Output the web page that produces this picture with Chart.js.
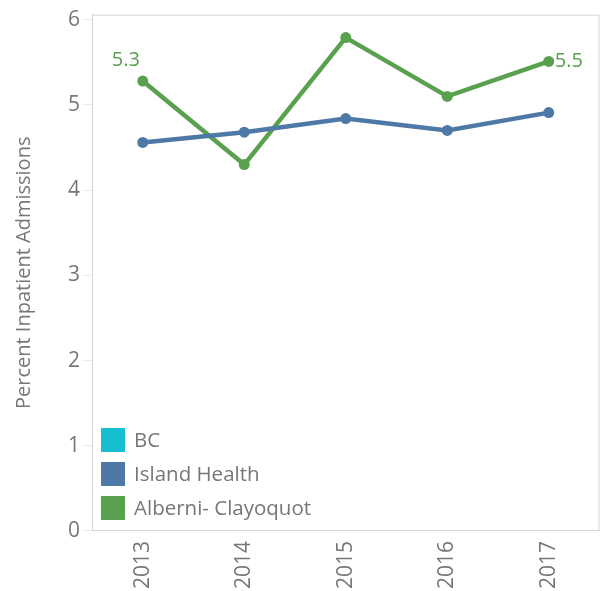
<!DOCTYPE html>
<html>
<head>
<meta charset="utf-8">
<script src="https://cdn.jsdelivr.net/npm/chart.js@4"></script>
<style>
  html, body { margin: 0; padding: 0; background: #fff; }
  #wrap { width: 605px; height: 591px; }
</style>
</head>
<body>
<div id="wrap"><canvas id="lineChart" width="605" height="591"></canvas></div>
<script>
// data
const years = ['2013', '2014', '2015', '2016', '2017'];
const bcValues = [];
const islandHealth = [4.56, 4.68, 4.84, 4.70, 4.91];
const alberniClayoquot = [5.28, 4.30, 5.79, 5.10, 5.51];
const yTicks = [0, 1, 2, 3, 4, 5, 6];

const grey = '#777';
const fontFam = '"Open Sans", "Noto Sans", sans-serif';

// legend drawn inside the plot, bottom left
const insideLegend = {
    id: 'insideLegend',
    afterDraw(chart) {
        const ctx = chart.ctx;
        const area = chart.chartArea;
        ctx.save();
        // frame on top and right
        ctx.strokeStyle = '#d4d4d4';
        ctx.lineWidth = 1;
        ctx.beginPath();
        ctx.moveTo(area.left, area.top + 0.5);
        ctx.lineTo(area.right - 0.5, area.top + 0.5);
        ctx.lineTo(area.right - 0.5, area.bottom);
        ctx.stroke();

        ctx.font = '20.5px ' + fontFam;
        ctx.textBaseline = 'middle';
        const items = chart.data.datasets;
        const rowH = 34;
        let y = area.bottom - 103;
        items.forEach(ds => {
            ctx.fillStyle = ds.borderColor;
            ctx.fillRect(area.left + 9, y, 24, 24);
            ctx.fillStyle = grey;
            ctx.fillText(ds.label, area.left + 42, y + 13);
            y += rowH;
        });

        // value labels on first / last point of green line
        const meta = chart.getDatasetMeta(2);
        const green = items[2].borderColor;
        ctx.fillStyle = green;
        ctx.font = '20px ' + fontFam;
        const first = meta.data[0];
        ctx.textAlign = 'center';
        ctx.textBaseline = 'bottom';
        ctx.fillText(alberniClayoquot[0].toFixed(1), first.x - 17, first.y - 11);
        const last = meta.data[meta.data.length - 1];
        ctx.textAlign = 'left';
        ctx.textBaseline = 'middle';
        ctx.fillText(alberniClayoquot[alberniClayoquot.length - 1].toFixed(1), last.x + 6, last.y);
        ctx.restore();
    }
};

new Chart(document.getElementById('lineChart').getContext('2d'), {
    type: 'line',
    data: {
        labels: years,
        datasets: [
            { label: 'BC', data: bcValues, borderColor: '#17becf', backgroundColor: '#17becf' },
            { label: 'Island Health', data: islandHealth, borderColor: '#4e79a7', backgroundColor: '#4e79a7' },
            { label: 'Alberni- Clayoquot', data: alberniClayoquot, borderColor: '#59a14f', backgroundColor: '#59a14f' }
        ]
    },
    options: {
        responsive: false,
        animation: false,
        layout: { padding: { top: 7, right: 3, left: 12, bottom: 0 } },
        elements: {
            line: { borderWidth: 4.5, tension: 0 },
            point: { radius: 5.5, hoverRadius: 5.5, borderWidth: 0 }
        },
        plugins: {
            legend: { display: false },
            tooltip: { enabled: false }
        },
        scales: {
            x: {
                offset: true,
                grid: { display: false },
                border: { color: '#d4d4d4' },
                ticks: {
                    color: grey,
                    font: { family: fontFam, size: 21 },
                    maxRotation: 90, minRotation: 90,
                    padding: 2
                }
            },
            y: {
                min: 0,
                max: 6.06,
                afterBuildTicks: axis => { axis.ticks = yTicks.map(v => ({ value: v })); },
                grid: { drawOnChartArea: false, drawTicks: true, tickLength: 10, color: '#ebebeb' },
                border: { color: '#d4d4d4' },
                ticks: {
                    color: grey,
                    font: { family: fontFam, size: 21 },
                    padding: 2
                },
                title: {
                    display: true,
                    text: 'Percent Inpatient Admissions',
                    color: grey,
                    font: { family: fontFam, size: 20 },
                    padding: { top: 0, bottom: 30 }
                }
            }
        }
    },
    plugins: [insideLegend]
});
</script>
</body>
</html>
